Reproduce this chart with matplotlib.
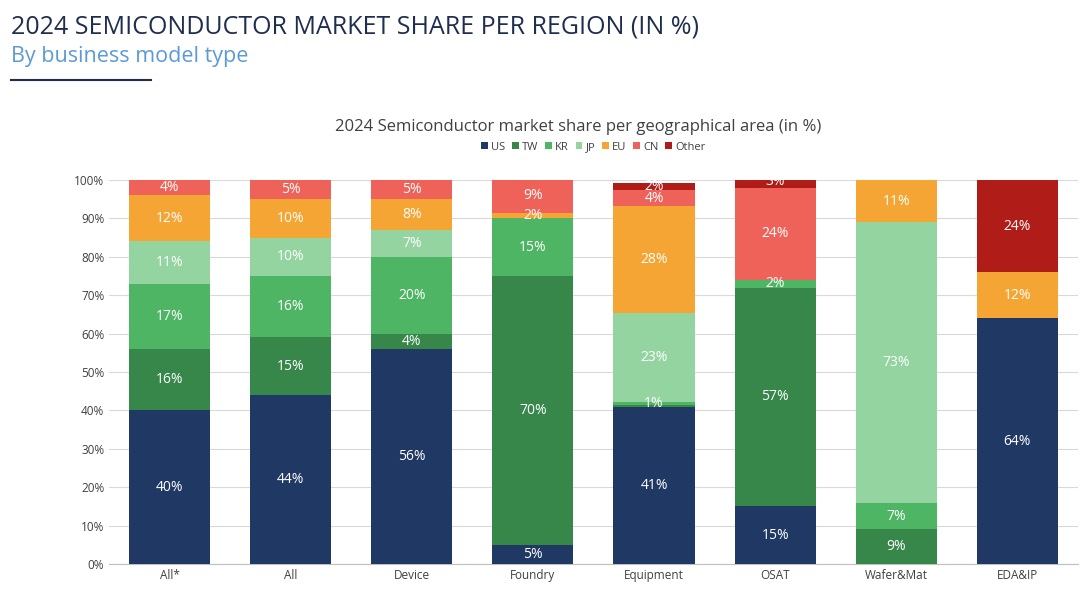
import numpy as np
import matplotlib.pyplot as plt
from matplotlib.ticker import PercentFormatter

plt.rcParams['font.family'] = ['Open Sans', 'DejaVu Sans']

categories = ["All*", "All", "Device", "Foundry", "Equipment", "OSAT", "Wafer&Mat", "EDA&IP"]
regions = ["US", "TW", "KR", "JP", "EU", "CN", "Other"]
colors = ["#1f3864", "#37874a", "#4db563", "#93d4a1", "#f5a533", "#ee6259", "#b01c18"]

us    = [40, 44, 56, 5, 41, 15, 0, 64]
tw    = [16, 15, 4, 70, 0.3, 57, 9, 0]
kr    = [17, 16, 20, 15, 1, 2, 7, 0]
jp    = [11, 10, 7, 0, 23, 0, 73, 0]
eu    = [12, 10, 8, 1.5, 28, 0, 11, 12]
cn    = [4, 5, 5, 9, 4, 24, 0, 0]
other = [0.3, 0.3, 0.3, 0, 2, 3, 0, 24]
shares = [us, tw, kr, jp, eu, cn, other]

fig = plt.figure(figsize=(10.8, 5.99), dpi=100)
ax = fig.add_axes([0.101, 0.0584, 0.897, 0.641])

x = np.arange(len(categories))
bottom = np.zeros(len(categories))
for name, vals, col in zip(regions, shares, colors):
    vals = np.array(vals, dtype=float)
    ax.bar(x, vals, 0.67, bottom=bottom, color=col, label=name, zorder=3)
    for xi, v, b in zip(x, vals, bottom):
        if v >= 0.9:
            ax.text(xi, b + v / 2, f"{max(v, 2) if v == 1.5 else v:.0f}%", ha="center",
                    va="center", color="white", fontsize=10, zorder=4)
    bottom += vals

ax.set_xlim(-0.5, 7.5)
ax.set_ylim(0, 100)
ax.set_yticks(range(0, 101, 10))
ax.yaxis.set_major_formatter(PercentFormatter(decimals=0))
ax.set_xticks(x)
ax.set_xticklabels(categories)
ax.tick_params(axis="both", labelsize=8.5, colors="#404040", length=0)
ax.grid(axis="y", color="#d9d9d9", linewidth=0.8, zorder=0)
for s in ["top", "right", "left"]:
    ax.spines[s].set_visible(False)
ax.spines["bottom"].set_color("#bfbfbf")

ax.legend(loc="lower center", bbox_to_anchor=(0.5, 1.045), ncol=7, frameon=False,
          fontsize=8, handlelength=0.6, handleheight=0.6, columnspacing=0.6,
          handletextpad=0.3, labelcolor="#404040")

fig.text(0.01, 0.955, "2024 SEMICONDUCTOR MARKET SHARE PER REGION (IN %)",
         fontsize=18, color="#1f2d4e", va="center")
fig.text(0.01, 0.905, "By business model type", fontsize=15.5, color="#5b9bd5", va="center")
fig.add_artist(plt.Line2D([0.01, 0.14], [0.867, 0.867], color="#1f2d4e", linewidth=1.5))
fig.text(0.535, 0.788, "2024 Semiconductor market share per geographical area (in %)",
         fontsize=12, color="#404040", ha="center", va="center")

fig.savefig("out.png", dpi=100)
